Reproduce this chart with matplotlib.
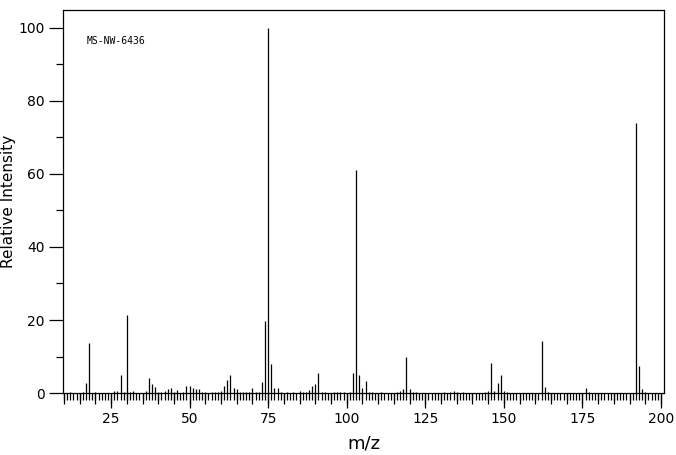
import matplotlib
matplotlib.use("Agg")
import matplotlib.pyplot as plt

# peak list (m/z, relative intensity)
mz = [12, 16, 17, 18, 20, 26, 27, 28, 29, 30, 31, 32, 36, 37, 38, 39, 40, 41,
      42, 43, 44, 45, 46, 48, 49, 50, 51, 52, 53, 54, 55, 57, 58, 59, 60, 61,
      62, 63, 64, 65, 66, 67, 68, 69, 70, 71, 72, 73, 74, 75, 76, 77, 78, 79,
      81, 83, 85, 86, 87, 88, 89, 90, 91, 92, 93, 96, 97, 98, 99, 101, 102,
      103, 104, 105, 106, 107, 108, 111, 116, 117, 118, 119, 120, 121, 122,
      131, 133, 134, 135, 137, 144, 145, 146, 147, 148, 149, 150, 151, 162,
      163, 164, 176, 177, 192, 193, 194, 195]
intensity = [0.3, 0.3, 2.7, 13.7, 0.3, 0.5, 0.5, 4.9, 0.3, 21.4, 0.4, 0.7,
             0.5, 4.0, 2.6, 1.8, 0.3, 0.3, 0.5, 1.1, 1.5, 0.4, 0.8, 0.3, 1.9,
             1.9, 1.4, 1.1, 1.0, 0.3, 0.3, 0.3, 0.3, 0.3, 0.5, 1.9, 3.6, 4.9,
             1.4, 1.1, 0.3, 0.3, 0.3, 0.3, 1.4, 0.3, 0.3, 3.0, 19.6, 100.0,
             8.0, 1.4, 1.4, 0.3, 0.3, 0.3, 0.5, 0.2, 0.4, 0.8, 1.9, 2.5, 5.6,
             0.4, 0.3, 0.3, 0.3, 0.3, 0.3, 0.3, 5.5, 61.0, 4.9, 1.5, 3.3, 0.4,
             0.3, 0.3, 0.3, 0.7, 1.0, 9.9, 1.0, 0.3, 0.3, 0.3, 0.3, 0.7, 0.3,
             0.3, 0.3, 0.5, 8.2, 0.7, 2.9, 4.9, 0.5, 0.3, 14.3, 1.8, 0.3, 1.3,
             0.3, 73.8, 7.4, 1.0, 0.3]
x_labels = [25, 50, 75, 100, 125, 150, 175, 200]
y_labels = [0, 20, 40, 60, 80, 100]
sample_id = "MS-NW-6436"

fig = plt.figure(figsize=(6.76, 4.55), dpi=100)
ax = fig.add_axes([0.0932, 0.136, 0.8888, 0.842])

ax.vlines(mz, 0, intensity, colors="black", linewidth=0.9)

ax.set_xlim(9.7, 200.9)
ax.set_ylim(0, 104.8)

ax.set_xticks(x_labels)
ax.set_xticks(range(10, 201), minor=True)
ax.set_yticks(y_labels)
ax.set_yticks(range(10, 101, 20), minor=True)

ax.tick_params(axis="x", which="major", direction="out", length=10.5,
               width=0.9, labelsize=10, pad=3)
ax.tick_params(axis="x", which="minor", direction="out", length=5,
               width=0.9)
ax.tick_params(axis="y", which="major", direction="out", length=10,
               width=0.9, labelsize=10, pad=3)
ax.tick_params(axis="y", which="minor", direction="out", length=5,
               width=0.9)

# medium ticks every 5 units
sec = ax.secondary_xaxis("bottom")
sec.set_xticks(range(10, 201, 5))
sec.tick_params(direction="out", length=8, width=0.9, labelbottom=False)
sec.spines["bottom"].set_visible(False)

for spine in ax.spines.values():
    spine.set_linewidth(0.9)

ax.set_xlabel("m/z", fontsize=13, labelpad=6)
ax.set_ylabel("Relative Intensity", fontsize=11, labelpad=2)
ax.yaxis.set_label_coords(-0.078, 0.5)
ax.text(0.04, 0.92, sample_id, transform=ax.transAxes, fontsize=7,
        family="DejaVu Sans Mono", va="center")

fig.savefig("out.png", dpi=100)
